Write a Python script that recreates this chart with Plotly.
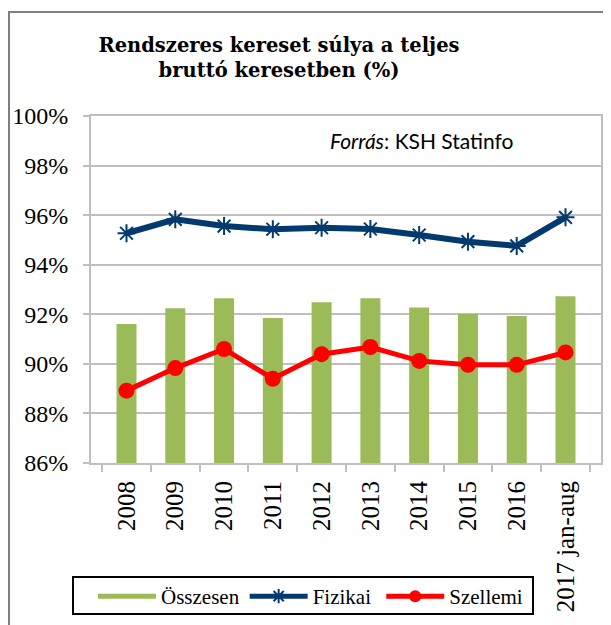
import plotly.graph_objects as go

categories = ["2008", "2009", "2010", "2011", "2012", "2013", "2014", "2015", "2016", "2017 jan-aug"]
osszesen = [91.61, 92.24, 92.65, 91.85, 92.49, 92.65, 92.27, 92.01, 91.93, 92.73]
fizikai = [95.27, 95.83, 95.56, 95.43, 95.49, 95.44, 95.20, 94.93, 94.76, 95.91]
szellemi = [88.92, 89.83, 90.60, 89.40, 90.39, 90.68, 90.12, 89.96, 89.96, 90.46]
y_ticks = [86, 88, 90, 92, 94, 96, 98, 100]
y_tick_labels = [f"{v}%" for v in y_ticks]

# page has an 8px body margin; the figure is drawn from (8, 8)
OFF = 8
W, H = 611 - OFF, 625 - OFF
# plot area in page pixels: x 91..601, y 116..463
L = 91 - OFF
R = W - (601 - OFF)
T = 116 - OFF
B = H - (463 - OFF)
pw = W - L - R
ph = H - T - B

def px_x(x):  # page px -> paper
    return (x - OFF - L) / pw

def px_y(y):  # page px -> paper
    return (H - B - (y - OFF)) / ph

SERIF = "Liberation Serif, Times New Roman, serif"
GREEN = "#9BBB59"
NAVY = "#033A6E"
RED = "#FF0000"

fig = go.Figure()
fig.add_trace(go.Bar(
    x=categories, y=osszesen, name="Összesen",
    marker=dict(color=GREEN, line=dict(width=0)),
    showlegend=False,
))
# legend entry for the bars (wide swatch as in the original)
fig.add_trace(go.Scatter(
    x=[None], y=[None], name="Összesen", mode="lines",
    line=dict(color=GREEN, width=11),
))
fig.add_trace(go.Scatter(
    x=categories, y=fizikai, name="Fizikai\u00a0", mode="lines+markers",
    line=dict(color=NAVY, width=6),
    marker=dict(symbol="asterisk-open", size=15, color=NAVY,
                line=dict(color=NAVY, width=2)),
))
fig.add_trace(go.Scatter(
    x=categories, y=szellemi, name="Szellemi", mode="lines+markers",
    line=dict(color=RED, width=5),
    marker=dict(symbol="circle", size=16, color=RED),
))

fig.update_layout(
    width=W, height=H,
    margin=dict(l=L, r=R, t=T, b=B, autoexpand=False),
    paper_bgcolor="white", plot_bgcolor="white",
    bargap=0.59,
    showlegend=True,
    title=dict(
        text="Rendszeres kereset súlya a teljes<br>bruttó keresetben (%)",
        x=(279 - OFF) / W, xanchor="center", xref="container",
        y=1 - 44 / H, yanchor="middle", yref="container",
        font=dict(family="DejaVu Serif, serif", size=19.5, color="black", weight="bold"),
    ),
    legend=dict(
        orientation="h",
        x=px_x(93), xanchor="left",
        y=px_y(576), yanchor="top",
        borderwidth=0,
        font=dict(family=SERIF, size=21, color="black"),
        bgcolor="rgba(0,0,0,0)",
        itemwidth=58,
        itemsizing="constant",
        tracegroupgap=0,
    ),
    xaxis=dict(
        type="category",
        tickangle=-90,
        tickfont=dict(family=SERIF, size=25, color="black"),
        showline=True, linecolor="#BFBFBF", linewidth=2, mirror=True,
        ticks="outside", ticklen=7, tickcolor="#BFBFBF", tickwidth=2,
        tickson="boundaries",
        showgrid=False,
        ticklabelstandoff=6,
        automargin=False,
    ),
    yaxis=dict(
        range=[86, 100],
        tickvals=y_ticks, ticktext=y_tick_labels,
        tickfont=dict(family=SERIF, size=24, color="black"),
        showline=True, linecolor="#BFBFBF", linewidth=2, mirror=True,
        ticks="outside", ticklen=6, tickcolor="#BFBFBF", tickwidth=2,
        showgrid=True, gridcolor="#BFBFBF", gridwidth=2,
        zeroline=False,
        ticklabelstandoff=10,
        automargin=False,
    ),
    annotations=[dict(
        text="<i>Forrás</i>: KSH Statinfo",
        xref="paper", yref="paper",
        x=px_x(328), xanchor="left",
        y=px_y(140), yanchor="middle",
        showarrow=False,
        font=dict(family="Lato, Carlito, Liberation Sans, sans-serif", size=21, color="black"),
    )],
    shapes=[
        dict(
            type="rect", xref="paper", yref="paper",
            x0=px_x(9), x1=px_x(650), y0=px_y(680), y1=px_y(12),
            line=dict(color="#7F7F7F", width=2), fillcolor="rgba(0,0,0,0)",
            layer="below",
        ),
        dict(
            type="rect", xref="paper", yref="paper",
            x0=px_x(73), x1=px_x(533), y0=px_y(614), y1=px_y(577),
            line=dict(color="black", width=2), fillcolor="rgba(0,0,0,0)",
            layer="above",
        ),
    ],
)

fig.write_html("out.html")
